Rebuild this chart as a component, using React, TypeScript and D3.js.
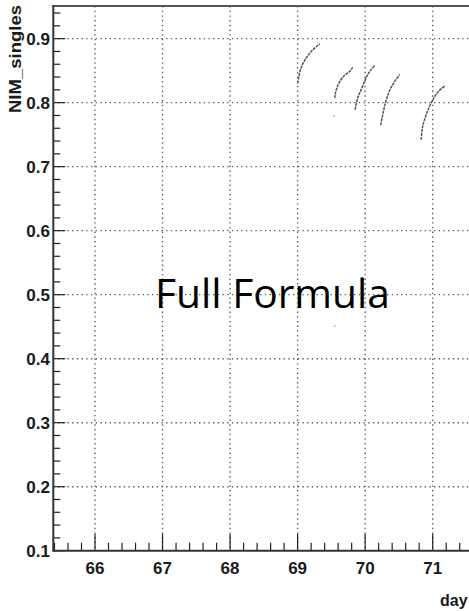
import React, { useEffect, useRef } from "react";
import * as d3 from "d3";

// tick labels
const xTickDays = [66, 67, 68, 69, 70, 71, 72];
const xTickLabels = ["66", "67", "68", "69", "70", "71"];
const yTickValues = [0.1, 0.2, 0.3, 0.4, 0.5, 0.6, 0.7, 0.8, 0.9];
const yTickLabels = ["0.1", "0.2", "0.3", "0.4", "0.5", "0.6", "0.7", "0.8", "0.9"];

// NIM_singles runs (day, rate)
const run1Days = [69.0, 69.01, 69.05, 69.11, 69.21, 69.33];
const run1Vals = [0.83, 0.836, 0.854, 0.867, 0.881, 0.892];
const run2Days = [69.55, 69.56, 69.6, 69.68, 69.78, 69.815];
const run2Vals = [0.807, 0.815, 0.828, 0.841, 0.85, 0.855];
const run3Days = [69.85, 69.89, 69.96, 70.05, 70.15];
const run3Vals = [0.789, 0.807, 0.825, 0.846, 0.859];
const run4Days = [70.23, 70.27, 70.32, 70.39, 70.51];
const run4Vals = [0.765, 0.786, 0.807, 0.825, 0.844];
const run5Days = [70.83, 70.85, 70.91, 70.99, 71.08, 71.18];
const run5Vals = [0.742, 0.762, 0.783, 0.802, 0.817, 0.826];

// stray single points
const strayDays = [69.54, 69.55];
const strayVals = [0.779, 0.451];

const App = () => {
    const ref = useRef<SVGSVGElement>(null);

    useEffect(() => {
        const svgWidth = 469, svgHeight = 611;
        const left = 53.3, top = 6, bottom = 550.7;
        const svg = d3.select(ref.current);
        svg.selectAll("*").remove();

        const xScale = d3.scaleLinear().domain([66, 71]).range([95, 432.7]);
        const x0 = xScale.invert(left);
        const yScale = d3.scaleLinear().domain([0.1, 0.951]).range([bottom, top]);

        const font = "'Liberation Sans', Arial, sans-serif";

        // grid
        const grid = svg.append("g")
            .attr("stroke", "#5e5e5e")
            .attr("stroke-width", 1.4)
            .attr("stroke-dasharray", "1.4,3.3");
        grid.selectAll("line.gx").data(xTickDays).enter().append("line")
            .attr("x1", d => xScale(d)).attr("x2", d => xScale(d))
            .attr("y1", top).attr("y2", bottom);
        grid.selectAll("line.gy").data(yTickValues.slice(1)).enter().append("line")
            .attr("x1", left).attr("x2", svgWidth)
            .attr("y1", d => yScale(d)).attr("y2", d => yScale(d));

        // ticks
        const ticks = svg.append("g").attr("stroke", "#222").attr("stroke-width", 1.2);
        const xMinor = d3.range(0, 40).map(i => 65.4 + i * 0.2).filter(d => d >= x0 && xScale(d) < svgWidth);
        ticks.selectAll("line.xt").data(xMinor).enter().append("line")
            .attr("x1", d => xScale(d)).attr("x2", d => xScale(d))
            .attr("y1", bottom)
            .attr("y2", d => Math.abs(d - Math.round(d)) < 1e-6 ? bottom - 17 : bottom - 8);
        const yMinor = d3.range(0, 43).map(i => 0.1 + i * 0.02).filter(d => d <= 0.951);
        ticks.selectAll("line.yt").data(yMinor).enter().append("line")
            .attr("y1", d => yScale(d)).attr("y2", d => yScale(d))
            .attr("x1", left)
            .attr("x2", d => Math.abs(d * 10 - Math.round(d * 10)) < 1e-6 ? left + 12 : left + 7);

        // frame
        svg.append("line").attr("x1", left).attr("x2", svgWidth).attr("y1", top).attr("y2", top)
            .attr("stroke", "#555").attr("stroke-width", 2.2);
        svg.append("line").attr("x1", left).attr("x2", left).attr("y1", top - 1).attr("y2", bottom + 1)
            .attr("stroke", "#333").attr("stroke-width", 2);
        svg.append("line").attr("x1", left).attr("x2", svgWidth).attr("y1", bottom).attr("y2", bottom)
            .attr("stroke", "#333").attr("stroke-width", 2);

        // tick labels
        svg.append("g").selectAll("text").data(xTickLabels).enter().append("text")
            .attr("x", (d, i) => xScale(xTickDays[i])).attr("y", 574)
            .attr("text-anchor", "middle")
            .attr("font-family", font).attr("font-weight", "bold").attr("font-size", 17)
            .attr("fill", "#1a1a1a")
            .text(d => d);
        svg.append("g").selectAll("text").data(yTickValues).enter().append("text")
            .attr("x", 50).attr("y", d => yScale(d) + 6)
            .attr("text-anchor", "end")
            .attr("font-family", font).attr("font-weight", "bold").attr("font-size", 17)
            .attr("fill", "#1a1a1a")
            .text((d, i) => yTickLabels[i]);

        // axis titles
        svg.append("text").attr("x", 440).attr("y", 606)
            .attr("font-family", font).attr("font-weight", "bold").attr("font-size", 16)
            .attr("fill", "#1a1a1a").text("day");
        svg.append("text")
            .attr("transform", "translate(21, 5) rotate(-90)")
            .attr("text-anchor", "end")
            .attr("font-family", font).attr("font-weight", "bold").attr("font-size", 17)
            .attr("textLength", 108).attr("lengthAdjust", "spacingAndGlyphs")
            .attr("fill", "#1a1a1a").text("NIM_singles");

        // data runs
        const runs = [
            [run1Days, run1Vals], [run2Days, run2Vals], [run3Days, run3Vals],
            [run4Days, run4Vals], [run5Days, run5Vals]
        ].map(([ds, vs]) => ds.map((d, i) => [d, vs[i]] as [number, number]));
        const line = d3.line<[number, number]>()
            .x(d => xScale(d[0])).y(d => yScale(d[1]))
            .curve(d3.curveCatmullRom);
        svg.append("g").selectAll("path").data(runs).enter().append("path")
            .attr("d", d => line(d))
            .attr("fill", "none")
            .attr("stroke", "#555")
            .attr("stroke-width", 1.5)
            .attr("stroke-dasharray", "3,0.8");
        svg.append("g").selectAll("circle").data(strayDays).enter().append("circle")
            .attr("cx", d => xScale(d)).attr("cy", (d, i) => yScale(strayVals[i]))
            .attr("r", 0.8).attr("fill", "#888");

        // overlay caption
        svg.append("text").attr("x", 155).attr("y", 308)
            .attr("font-family", "'Open Sans', 'Noto Sans', sans-serif")
            .attr("font-size", 41)
            .attr("textLength", 235).attr("lengthAdjust", "spacingAndGlyphs")
            .attr("fill", "#000").text("Full Formula");

        svg.attr("width", svgWidth).attr("height", svgHeight);
    }, []);

    return (
        <svg ref={ref} width={469} height={611}
            style={{ position: "absolute", left: 0, top: 0, background: "#fff" }}></svg>
    );
};

export default App;
